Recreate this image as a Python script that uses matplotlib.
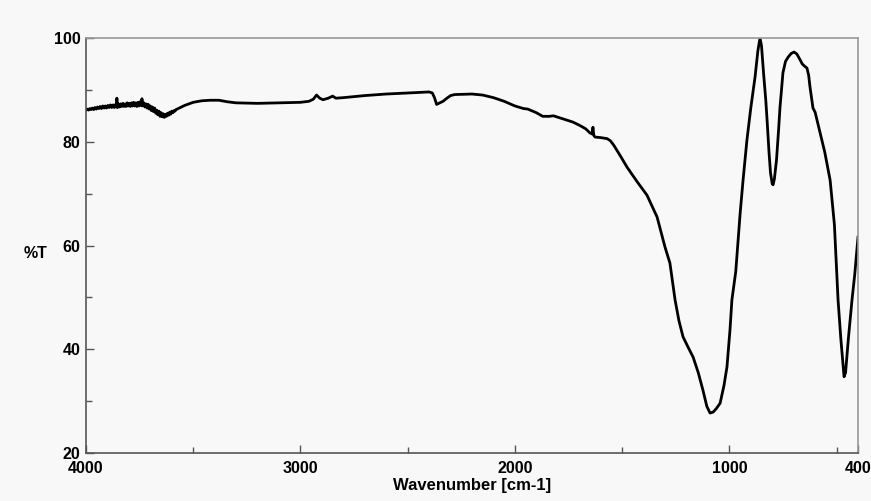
import matplotlib
matplotlib.use("Agg")
import matplotlib.pyplot as plt
from matplotlib.ticker import MultipleLocator

# FTIR spectrum: wavenumber (cm-1) and transmittance (%T)
wavenumber = [
    4000, 3994, 3988, 3982, 3976, 3970, 3964, 3958, 3952, 3946, 3940, 3934, 3928, 3922,
    3916, 3910, 3904, 3898, 3892, 3886, 3880, 3874, 3868, 3862, 3858, 3856, 3853, 3848,
    3843, 3838, 3833, 3828, 3823, 3818, 3813, 3808, 3803, 3798, 3793, 3788, 3783, 3778,
    3773, 3768, 3763, 3758, 3753, 3748, 3743, 3739, 3735, 3730, 3725, 3720, 3715, 3710,
    3705, 3700, 3695, 3690, 3685, 3680, 3675, 3670, 3665, 3660, 3655, 3650, 3645, 3640,
    3635, 3630, 3625, 3620, 3615, 3610, 3605, 3600, 3595, 3590, 3585, 3580, 3570, 3560,
    3540, 3520,
    3500, 3460, 3420, 3380, 3340, 3300, 3200, 3100, 3000, 2960, 2940, 2925, 2910, 2895,
    2870, 2850, 2835, 2800, 2700, 2600, 2500, 2400, 2385, 2375, 2365, 2355, 2345, 2335,
    2320, 2300, 2280, 2200, 2150, 2100, 2050, 2000, 1960, 1940, 1900, 1870, 1840, 1820,
    1790, 1760, 1730, 1700, 1670, 1650, 1640, 1636, 1632, 1626, 1600, 1570, 1555, 1540,
    1510, 1477, 1430, 1384, 1337, 1300, 1277, 1253, 1235, 1216, 1190, 1169, 1145, 1123,
    1105, 1090, 1075, 1060, 1043, 1025, 1011, 997, 988, 970, 950, 936, 918, 900, 880,
    867, 857, 850, 840, 830, 824, 815, 808, 800, 796, 790, 780, 770, 764, 750, 738, 726,
    712, 698, 685, 670, 660, 650, 638, 630, 624, 610, 600, 590, 577, 555, 530, 510, 493,
    480, 470, 465, 458, 445, 428, 415, 400,
]
transmittance = [
    86.1, 86.3, 86.1, 86.4, 86.2, 86.5, 86.2, 86.6, 86.3, 86.7, 86.4, 86.8, 86.4, 86.9,
    86.5, 86.9, 86.5, 87.0, 86.6, 87.1, 86.6, 87.1, 86.6, 87.2, 86.7, 88.4, 86.6, 87.3,
    86.7, 87.3, 86.8, 87.4, 86.8, 87.3, 86.8, 87.5, 86.9, 87.4, 86.8, 87.5, 86.9, 87.6,
    86.9, 87.5, 86.8, 87.6, 86.9, 87.7, 87.0, 88.3, 86.9, 87.5, 86.7, 87.3, 86.5, 87.2,
    86.3, 86.9, 86.0, 86.7, 85.8, 86.5, 85.5, 86.1, 85.2, 85.9, 84.9, 85.6, 84.8, 85.4,
    84.7, 85.3, 84.9, 85.5, 85.1, 85.7, 85.3, 85.9, 85.6, 86.0, 85.9, 86.2, 86.4, 86.6,
    87.0, 87.3,
    87.6, 87.9, 88.0, 88.0, 87.7, 87.5, 87.4, 87.5, 87.6, 87.8, 88.2, 89.0, 88.4, 88.1,
    88.4, 88.8, 88.4, 88.5, 88.9, 89.2, 89.4, 89.6, 89.4, 88.5, 87.2, 87.4, 87.6, 87.8,
    88.3, 88.9, 89.1, 89.2, 89.0, 88.5, 87.8, 86.9, 86.4, 86.3, 85.6, 84.9, 84.9, 85.0,
    84.6, 84.2, 83.8, 83.2, 82.5, 81.7, 81.5, 82.8, 81.2, 80.9, 80.8, 80.6, 80.2, 79.4,
    77.4, 75.1, 72.3, 69.7, 65.5, 59.7, 56.6, 49.5, 45.5, 42.4, 40.2, 38.5, 35.5, 32.1,
    29.0, 27.7, 27.9, 28.6, 29.6, 33.0, 36.6, 43.7, 49.5, 55.0, 66.0, 72.6, 80.3, 86.5, 92.5,
    97.5, 100.0, 98.5, 93.0, 88.0, 84.2, 78.0, 74.0, 71.9, 71.7, 72.8, 76.5, 82.5, 86.5, 93.3, 95.5, 96.3,
    97.0, 97.3, 96.9, 95.8, 95.0, 94.6, 94.2, 92.8, 90.6, 86.5, 85.7, 84.0, 81.7, 78.0, 72.6, 64.0, 49.5,
    42.0, 37.0, 34.7, 35.5, 42.0, 49.5, 54.5, 61.6,
]
xticks = [4000, 3000, 2000, 1000, 400]
yticks = [20, 40, 60, 80, 100]

plt.rcParams['font.family'] = ['Liberation Sans', 'DejaVu Sans']
bg = '#f8f8f8'
fig = plt.figure(figsize=(8.71, 5.01), dpi=100, facecolor=bg)
ax = fig.add_axes([86/871, 1-453/501, (858-86)/871, (453-38)/501], facecolor=bg)

ax.plot(wavenumber, transmittance, color='black', lw=2.0, solid_joinstyle='round')

ax.set_xlim(4000, 400)
ax.set_ylim(20, 100)
ax.set_xticks(xticks)
ax.set_yticks(yticks)
ax.xaxis.set_minor_locator(MultipleLocator(500))
ax.yaxis.set_minor_locator(MultipleLocator(10))
ax.tick_params(axis='both', which='major', direction='in', length=6, width=1, color='#555555',
               labelsize=11.5)
ax.tick_params(axis='both', which='minor', direction='in', length=4, width=1, color='#555555')
ax.tick_params(axis='x', which='major', pad=6)
ax.tick_params(axis='y', which='major', pad=4)
for lab in ax.get_xticklabels() + ax.get_yticklabels():
    lab.set_fontweight('bold')

for s in ['left', 'bottom']:
    ax.spines[s].set_color('#555555')
    ax.spines[s].set_linewidth(1.2)
for s in ['top', 'right']:
    ax.spines[s].set_color('#999999')
    ax.spines[s].set_linewidth(1.2)

ax.set_xlabel('Wavenumber [cm-1]', fontsize=12, fontweight='bold', labelpad=1)
fig.text(35/871, 1-253/501, '%T', fontsize=11.5, fontweight='bold', ha='center', va='center')

fig.savefig('out.png', dpi=100, facecolor=bg)
